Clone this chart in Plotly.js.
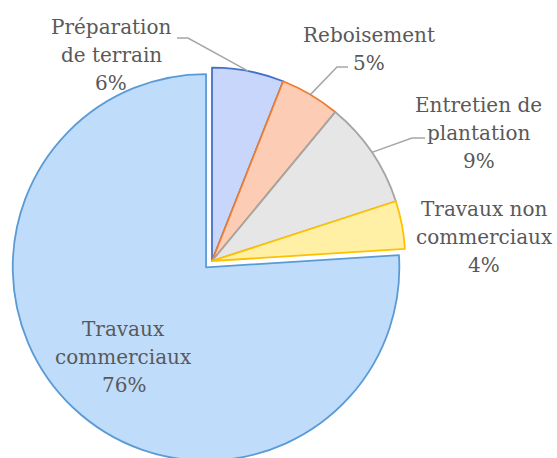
<!DOCTYPE html>
<html>
<head>
<meta charset="utf-8">
<script src="https://cdn.plot.ly/plotly-3.0.1.min.js"></script>
<style>html,body{margin:0;padding:0;background:#fff;overflow:hidden;}#wrap{width:557px;height:458px;overflow:hidden;}</style>
</head>
<body>
<div id="wrap"><div id="chart"></div></div>
<script>
// ---- data ----
const categories = ["Préparation de terrain", "Reboisement", "Entretien de plantation", "Travaux non commerciaux", "Travaux commerciaux"];
const displayLabels = ["Préparation<br>de terrain", "Reboisement", "Entretien de<br>plantation", "Travaux non<br>commerciaux", "Travaux<br>commerciaux"];
const values = [6, 5, 9, 4, 76];

// ---- styles ----
const fillColors = ["#c9d6fb", "#fccdb4", "#e6e6e6", "#fff0a6", "#bfdcfb"];
const lineColors = ["#4472c4", "#ed7d31", "#a5a5a5", "#ffc000", "#5b9bd5"];
const pulls = [0, 0, 0, 0, 0.045];
const textColor = "#595959";
const fontFamily = "DejaVu Serif, Liberation Serif, serif";
const fontSize = 20;
const lineStep = 28;

// layout geometry (figure taller than window; overflow is cropped)
const W = 557, H = 470;
const M = {l: 10, r: 143, t: 59, b: 7};
const plotW = W - M.l - M.r, plotH = H - M.t - M.b;
const maxPull = 1 + Math.max(...pulls);
const R = Math.min(plotW, plotH) / 2 / maxPull;
const CX = M.l + plotW / 2, CY = M.t + plotH / 2;
const px2x = p => (p - M.l) / plotW;
const py2y = p => 1 - (p - M.t) / plotH;

// label placement (centre x, first line y) and leader elbows
const labelAnchors = [[111, 27], [369, 35], [479, 105], [484, 209], [124, 329]];
const leaderElbows = [[[188, 38], [177, 38]], [[337, 67], [348, 67]], [[412, 138], [425, 138]], null, null];

const total = values.reduce((a, b) => a + b, 0);
const annotations = [];
const shapes = [];
let cum = 0;
values.forEach((v, i) => {
  const mid = (cum + v / 2) / total * 2 * Math.PI; // clockwise from top
  cum += v;
  const pct = Math.round(v / total * 100);
  const lines = (displayLabels[i] + "<br>" + pct + "%").split("<br>");
  lines.forEach((ln, k) => {
    annotations.push({
      xref: "paper", yref: "paper",
      x: px2x(labelAnchors[i][0]), y: py2y(labelAnchors[i][1] + k * lineStep),
      xanchor: "center", yanchor: "middle",
      text: ln, showarrow: false, align: "center",
      font: {family: fontFamily, size: fontSize, color: textColor}
    });
  });
  if (leaderElbows[i]) {
    const ax = CX + R * Math.sin(mid), ay = CY - R * Math.cos(mid);
    const pts = [[ax, ay]].concat(leaderElbows[i]);
    const path = pts.map((p, k) => (k ? "L" : "M") + px2x(p[0]) + "," + py2y(p[1])).join(" ");
    shapes.push({type: "path", xref: "paper", yref: "paper", path: path,
      line: {color: "#a6a6a6", width: 1.5}, layer: "above"});
  }
});

const trace = {
  type: "pie",
  labels: categories,
  values: values,
  sort: false,
  direction: "clockwise",
  rotation: 0,
  pull: pulls,
  textinfo: "none",
  marker: {colors: fillColors, line: {color: lineColors, width: 1.8}},
  hoverinfo: "label+percent",
  showlegend: false
};

const layout = {
  width: W, height: H,
  margin: M,
  paper_bgcolor: "#ffffff",
  plot_bgcolor: "#ffffff",
  showlegend: false,
  annotations: annotations,
  shapes: shapes
};

Plotly.newPlot("chart", [trace], layout, {staticPlot: true});
</script>
</body>
</html>
